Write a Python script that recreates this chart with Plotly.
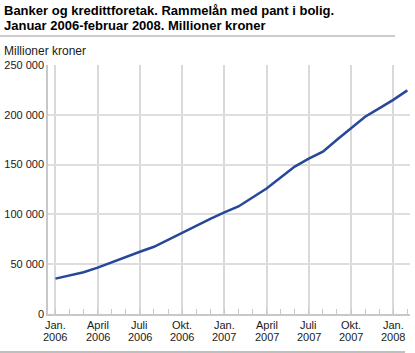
import plotly.graph_objects as go

months = ["Jan. 2006", "Feb. 2006", "Mars 2006", "April 2006", "Mai 2006", "Juni 2006",
          "Juli 2006", "Aug. 2006", "Sep. 2006", "Okt. 2006", "Nov. 2006", "Des. 2006",
          "Jan. 2007", "Feb. 2007", "Mars 2007", "April 2007", "Mai 2007", "Juni 2007",
          "Juli 2007", "Aug. 2007", "Sep. 2007", "Okt. 2007", "Nov. 2007", "Des. 2007",
          "Jan. 2008", "Feb. 2008"]
values = [35500, 38500, 42000, 46500, 52000, 57500, 62500, 67500, 74500, 82000, 88500, 95500,
          102000, 108000, 117000, 126000, 137000, 148000, 156000, 163000, 175000, 186500,
          198000, 206500, 215000, 224500]
tick_months = ["Jan.", "April", "Juli", "Okt.", "Jan.", "April", "Juli", "Okt.", "Jan."]
tick_years = ["2006", "2006", "2006", "2006", "2007", "2007", "2007", "2007", "2008"]
y_ticks = [0, 50000, 100000, 150000, 200000, 250000]
y_labels = ["0", "50 000", "100 000", "150 000", "200 000", "250 000"]

x_idx = list(range(len(months)))
tick_pos = x_idx[::3]

W, H = 415, 353
L, R, T, B = 48, 5, 65, 39
pw, ph = W - L - R, H - T - B

def px(x):
    return (x - L) / pw

def py(y):
    return (H - B - y) / ph

fig = go.Figure()
fig.add_trace(go.Scatter(x=x_idx, y=values, mode="lines",
                         line=dict(color="#27479a", width=2.5),
                         customdata=months, hovertemplate="%{customdata}: %{y}<extra></extra>"))

font_family = "Liberation Sans, Arial, sans-serif"
annotations = [
    dict(text="<b>Banker og kredittforetak. Rammelån med pant i bolig.</b>",
         xref="paper", yref="paper", x=px(2), y=py(11), xanchor="left", yanchor="middle",
         showarrow=False, font=dict(size=13, color="#000")),
    dict(text="<b>Januar 2006-februar 2008. Millioner kroner</b>",
         xref="paper", yref="paper", x=px(2), y=py(25), xanchor="left", yanchor="middle",
         showarrow=False, font=dict(size=13, color="#000")),
    dict(text="Millioner kroner",
         xref="paper", yref="paper", x=px(2), y=py(51), xanchor="left", yanchor="middle",
         showarrow=False, font=dict(size=12, color="#1a1a1a")),
]
for pos, m, yr in zip(tick_pos, tick_months, tick_years):
    annotations.append(dict(text=m, xref="x", yref="paper", x=pos, y=py(325),
                            xanchor="center", yanchor="middle", showarrow=False,
                            font=dict(size=11, color="#1a1a1a")))
    annotations.append(dict(text=yr, xref="x", yref="paper", x=pos, y=py(337),
                            xanchor="center", yanchor="middle", showarrow=False,
                            font=dict(size=11, color="#1a1a1a")))

fig.update_layout(
    width=W, height=H,
    margin=dict(l=L, r=R, t=T, b=B),
    paper_bgcolor="white", plot_bgcolor="white",
    showlegend=False,
    font=dict(family=font_family, size=11, color="#1a1a1a"),
    xaxis=dict(range=[-0.53, 25.19], tickvals=tick_pos, showticklabels=False,
               showgrid=True, gridcolor="#d9d9d9", gridwidth=2,
               showline=True, linecolor="#c8c8c8", linewidth=1.5,
               ticks="inside", ticklen=5, tickcolor="#c8c8c8",
               minor=dict(dtick=1, tick0=0, ticks="inside", ticklen=5, tickcolor="#c8c8c8",
                          showgrid=False),
               zeroline=False, fixedrange=True),
    yaxis=dict(range=[0, 250000], tickvals=y_ticks, ticktext=y_labels,
               showgrid=True, gridcolor="#dedede", gridwidth=2,
               showline=True, linecolor="#c8c8c8", linewidth=1.5,
               zeroline=False, fixedrange=True, tickfont=dict(size=11)),
    annotations=annotations,
    shapes=[
        dict(type="line", xref="paper", yref="paper", x0=px(0), x1=px(395), y0=py(36), y1=py(36),
             line=dict(color="#cccccc", width=2)),
        dict(type="line", xref="paper", yref="paper", x0=px(0), x1=px(405), y0=py(352), y1=py(352),
             line=dict(color="#aaaaaa", width=1.5)),
    ],
)

fig.write_html("out.html", config={"displayModeBar": False})
